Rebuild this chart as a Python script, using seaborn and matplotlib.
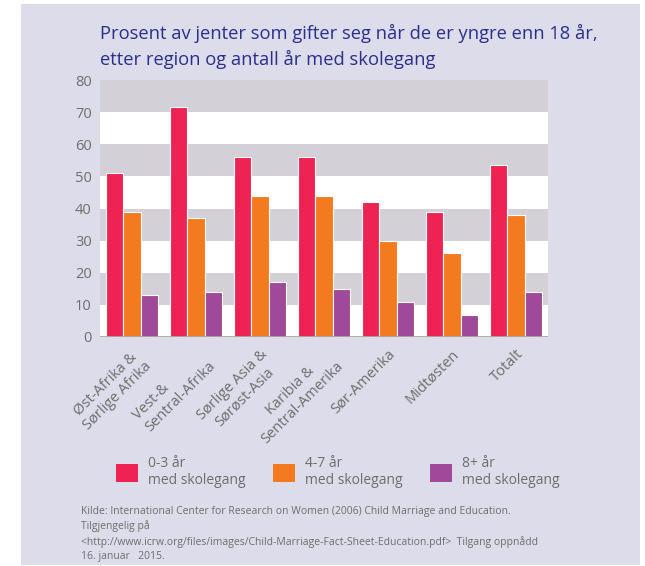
import matplotlib
matplotlib.use("Agg")
import matplotlib.pyplot as plt
import seaborn as sns
import pandas as pd
from matplotlib.patches import Rectangle, Patch

regions = ["Øst-Afrika &\nSørlige Afrika", "Vest-&\nSentral-Afrika", "Sørlige Asia &\nSørøst-Asia",
           "Karibia &\nSentral-Amerika", "Sør-Amerika", "Midtøsten", "Totalt"]
series = ["0-3 år\nmed skolegang", "4-7 år\nmed skolegang", "8+ år\nmed skolegang"]
v_0_3 = [51, 71.5, 56, 56, 42, 39, 53.5]
v_4_7 = [39, 37, 44, 44, 30, 26, 38]
v_8p = [13, 14, 17, 15, 11, 7, 14]
yticks = [0, 10, 20, 30, 40, 50, 60, 70, 80]
title = "Prosent av jenter som gifter seg når de er yngre enn 18 år,\netter region og antall år med skolegang"
source = ("Kilde: International Center for Research on Women (2006) Child Marriage and Education.\n"
          "Tilgjengelig på\n"
          "<http://www.icrw.org/files/images/Child-Marriage-Fact-Sheet-Education.pdf>  Tilgang oppnådd\n"
          "16. januar   2015.")

colors = ["#ee2353", "#f47a20", "#a0489a"]
bg = "#dcdcea"
band = "#d3d0d8"
txt = "#6e6e6e"

sns.set_theme(style="white")
plt.rcParams["font.family"] = ["Open Sans", "DejaVu Sans"]

df = pd.DataFrame({
    "region": regions * 3,
    "serie": sum([[s] * len(regions) for s in series], []),
    "verdi": v_0_3 + v_4_7 + v_8p,
})

W, H = 645, 566
fig = plt.figure(figsize=(W / 100, H / 100), dpi=100)
fig.patch.set_facecolor("white")
fig.add_artist(Rectangle((21 / W, 1 - 565 / H), (640 - 21) / W, (565 - 4) / H,
                         transform=fig.transFigure, facecolor=bg, edgecolor="none", zorder=0))

ax = fig.add_axes([100 / W, 1 - 337 / H, 448 / W, (337 - 80) / H])
ax.set_facecolor("white")
for lo in [10, 30, 50, 70]:
    ax.axhspan(lo, lo + 10, color=band, zorder=0, lw=0)

sns.barplot(data=df, x="region", y="verdi", hue="serie", palette=colors, width=0.8,
            ax=ax, edgecolor="white", linewidth=0.8, saturation=1, legend=False, zorder=2)

ax.axhline(0, color="#a9a59c", lw=2, zorder=3)
ax.set_xlim(-0.5, 6.5)
ax.set_ylim(0, 80)
ax.set_yticks(yticks)
ax.set_yticklabels([str(t) for t in yticks])
ax.set_xlabel("")
ax.set_ylabel("")
for s in ax.spines.values():
    s.set_visible(False)
ax.tick_params(axis="y", length=0, pad=6, labelsize=10.5, labelcolor=txt)
ax.tick_params(axis="x", length=0, pad=7, labelsize=10.5, labelcolor=txt)
for i, lab in enumerate(ax.get_xticklabels()):
    lab.set_rotation(45)
    lab.set_ha("right")
    lab.set_va("top")
    lab.set_rotation_mode("anchor")
    lab.set_multialignment("left" if i == 1 else "center")
    lab.set_linespacing(1.2)

fig.text(100 / W, 1 - 24 / H, title, ha="left", va="top", fontsize=13.2,
         color="#2b2f8a", linespacing=1.45)

handles = [Patch(facecolor=c, edgecolor="none") for c in colors]
fig.legend(handles, series, ncol=3, frameon=False, loc="upper left",
           bbox_to_anchor=(110 / W, 1 - 450 / H), fontsize=10,
           labelcolor=txt, handlelength=1.6, handleheight=1.6,
           handletextpad=0.7, columnspacing=2.0, borderaxespad=0)

fig.text(81 / W, 1 - 506 / H, source, ha="left", va="top", fontsize=7.5,
         color="#6e6e6e", linespacing=1.4)

fig.savefig("out.png", dpi=100, facecolor="white")
